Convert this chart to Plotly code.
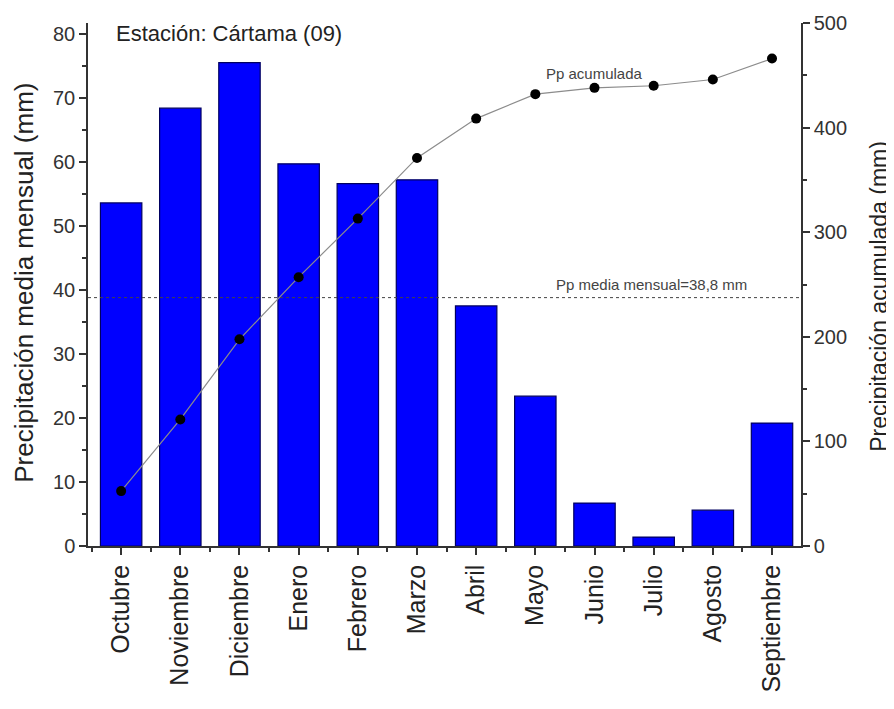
import plotly.graph_objects as go

months = ["Octubre", "Noviembre", "Diciembre", "Enero", "Febrero", "Marzo",
          "Abril", "Mayo", "Junio", "Julio", "Agosto", "Septiembre"]
monthly_mm = [53.6, 68.4, 75.5, 59.7, 56.6, 57.2, 37.5, 23.4, 6.7, 1.4, 5.6, 19.2]
cumulative_mm = [52.5, 121, 197.6, 257, 313, 371, 408.6, 432, 438, 440, 446, 466]
mean_monthly = 38.8
left_ticks = [0, 10, 20, 30, 40, 50, 60, 70, 80]
right_ticks = [0, 100, 200, 300, 400, 500]

FONT = "Liberation Sans, Arial, sans-serif"
AX = "#333333"

xpos = list(range(len(months)))

fig = go.Figure()
fig.add_trace(go.Bar(
    x=xpos, y=monthly_mm, width=0.7,
    marker=dict(color="#0000FF", line=dict(color="#000060", width=1.2)),
    name="Pp media mensual", showlegend=False))
fig.add_trace(go.Scatter(
    x=xpos, y=cumulative_mm, yaxis="y2", mode="lines+markers",
    line=dict(color="#8c8c8c", width=1.2),
    marker=dict(color="black", size=10),
    name="Pp acumulada", showlegend=False))

fig.add_shape(type="line", xref="paper", yref="y", x0=0, x1=1,
              y0=mean_monthly, y1=mean_monthly,
              line=dict(color="#444444", width=1, dash="3px,3px"))

fig.add_annotation(text="Estación: Cártama (09)", xref="paper", yref="paper",
                   x=0.036, y=0.979, xanchor="left", yanchor="middle",
                   showarrow=False, font=dict(family=FONT, size=22, color="#222222"))
fig.add_annotation(text="Pp acumulada", xref="x", yref="y2",
                   x=8.0, y=452, xanchor="center", yanchor="middle",
                   showarrow=False, font=dict(family=FONT, size=15, color="#444444"))
fig.add_annotation(text="Pp media mensual=38,8 mm", xref="x", yref="y",
                   x=8.96, y=40.9, xanchor="center", yanchor="middle",
                   showarrow=False, font=dict(family=FONT, size=15, color="#444444"))
fig.add_annotation(text="Precipitación media mensual (mm)", xref="paper", yref="paper",
                   x=-0.090, y=0.503, xanchor="center", yanchor="middle", textangle=-90,
                   showarrow=False, font=dict(family=FONT, size=26, color="#222222"))
fig.add_annotation(text="Precipitación acumulada (mm)", xref="paper", yref="paper",
                   x=1.109, y=0.478, xanchor="center", yanchor="middle", textangle=-90,
                   showarrow=False, font=dict(family=FONT, size=23, color="#222222"))

fig.update_layout(
    width=886, height=701,
    margin=dict(l=80, r=93, t=15, b=163),
    plot_bgcolor="white", paper_bgcolor="white",
    font=dict(family=FONT, color="#222222"),
    bargap=0.3,
    xaxis=dict(
        range=[-0.56, 11.49], tickmode="array", tickvals=xpos, ticktext=months,
        tickangle=-90, ticks="outside", ticklen=7, tickwidth=1.5, tickcolor=AX,
        showline=True, linecolor=AX, linewidth=1.5, showgrid=False, zeroline=False,
        automargin=False,
        tickfont=dict(family=FONT, size=25, color="#222222"),
        minor=dict(tickvals=[i + 0.5 for i in xpos[:-1]] + [-0.5, 11.5], ticks="outside",
                   ticklen=4, tickwidth=1.5, tickcolor=AX, showgrid=False)),
    yaxis=dict(
        range=[0, 81.7], tickvals=left_ticks, ticks="outside", ticklen=7,
        tickwidth=1.5, tickcolor=AX, showline=True, linecolor=AX, linewidth=1.5,
        showgrid=False, zeroline=False, automargin=False,
        tickfont=dict(family=FONT, size=20, color="#333333"),
        minor=dict(dtick=5, ticks="outside", ticklen=4, tickwidth=1.5,
                   tickcolor=AX, showgrid=False)),
    yaxis2=dict(
        range=[0, 500], tickvals=right_ticks, overlaying="y", side="right",
        anchor="x", ticks="outside", ticklen=7, tickwidth=1.5, tickcolor=AX,
        showline=True, linecolor=AX, linewidth=1.5, showgrid=False, zeroline=False,
        automargin=False,
        tickfont=dict(family=FONT, size=20, color="#333333"),
        minor=dict(dtick=50, ticks="outside", ticklen=4, tickwidth=1.5,
                   tickcolor=AX, showgrid=False)),
)

fig.write_html("out.html")
